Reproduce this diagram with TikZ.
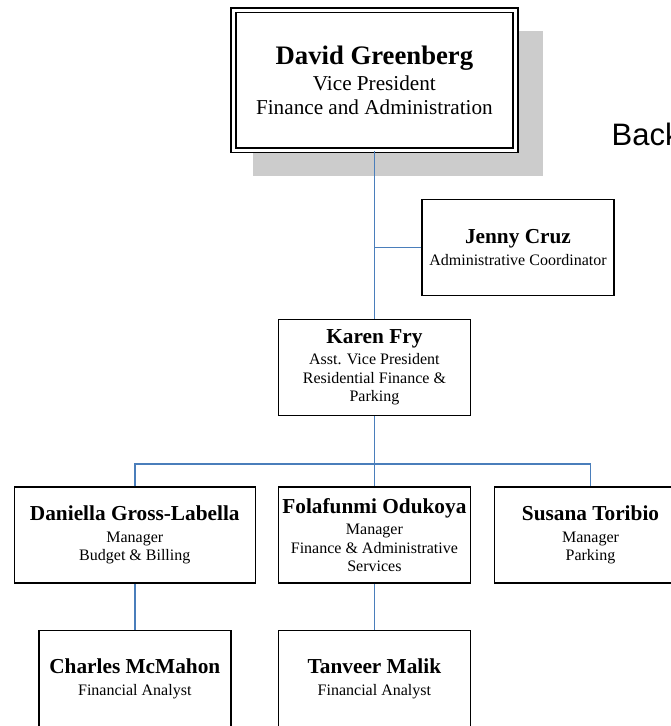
\documentclass[tikz,border=0pt]{standalone}
\usepackage{fontspec}
\setmainfont{Liberation Serif}
\newfontfamily\arialfont{Liberation Sans}
\usepackage{xcolor}
\definecolor{linkblue}{RGB}{74,126,187}
\definecolor{shadowgray}{RGB}{204,204,204}
\newcommand{\who}[1]{{\fontsize{21.3}{22}\selectfont\bfseries #1}}

\begin{document}
\begin{tikzpicture}[x=1pt, y=-1pt,
        person/.style={draw=black, line width=1.5pt, fill=white, minimum width=192pt, minimum height=96pt, inner sep=0pt, align=center, font=\fontsize{16}{18.3}\selectfont},
        link/.style={draw=linkblue, line width=1.7pt}]
        \useasboundingbox (0,0) rectangle (671,726);
        \fill [shadowgray] (253,31) rectangle (543,176);
        \node [person, line width=1.6pt, double=white, double distance=3pt, minimum width=282pt, minimum height=140pt, font=\fontsize{21.2}{24}\selectfont] (vp) at (374.4,80) {{\fontsize{26.7}{27}\selectfont\bfseries David Greenberg}\\[2pt] Vice President\\ Finance and Administration};
        \node [person] (jenny) at (518,247.5) {\who{Jenny Cruz}\\[3pt] Administrative Coordinator};
        \node [person] (karen) at (374.4,367.3) {\who{Karen Fry}\\[3pt] Asst. Vice President\\ Residential Finance \&\\ Parking};
        
        \node [person, minimum width=241pt] (daniella) at (134.8,535) {\who{Daniella Gross-Labella}\\[3pt] Manager\\ Budget \& Billing};
        \node [person] (fola) at (374.4,535) {\who{Folafunmi Odukoya}\\[3pt] Manager\\ Finance \& Administrative\\ Services};
        \node [person] (susana) at (590.5,535) {\who{Susana Toribio}\\[3pt] Manager\\ Parking};
        \node [person] (charles) at (134.8,678.7) {\who{Charles McMahon}\\[3pt] Financial Analyst};
        \node [person] (tanveer) at (374.4,678.7) {\who{Tanveer Malik}\\[3pt] Financial Analyst};
        
        \node [anchor=base west, inner sep=0pt, font=\arialfont\fontsize{31}{31}\selectfont] (back) at (611.5,145) {Back};
        
        \coordinate (split) at (374.4,463.7);
        \draw [link] (vp.south) -- (karen.north);
        \draw [link] (jenny.west) -- (jenny.west -| vp.south);
        \draw [link] (karen.south) -- (split);
        \draw [link] (daniella.north) |- (split) -| (susana.north);
        \draw [link] (split) -- (fola.north);
        \draw [link] (daniella.south) -- (charles.north);
        \draw [link] (fola.south) -- (tanveer.north);
    \end{tikzpicture}
\end{document}
